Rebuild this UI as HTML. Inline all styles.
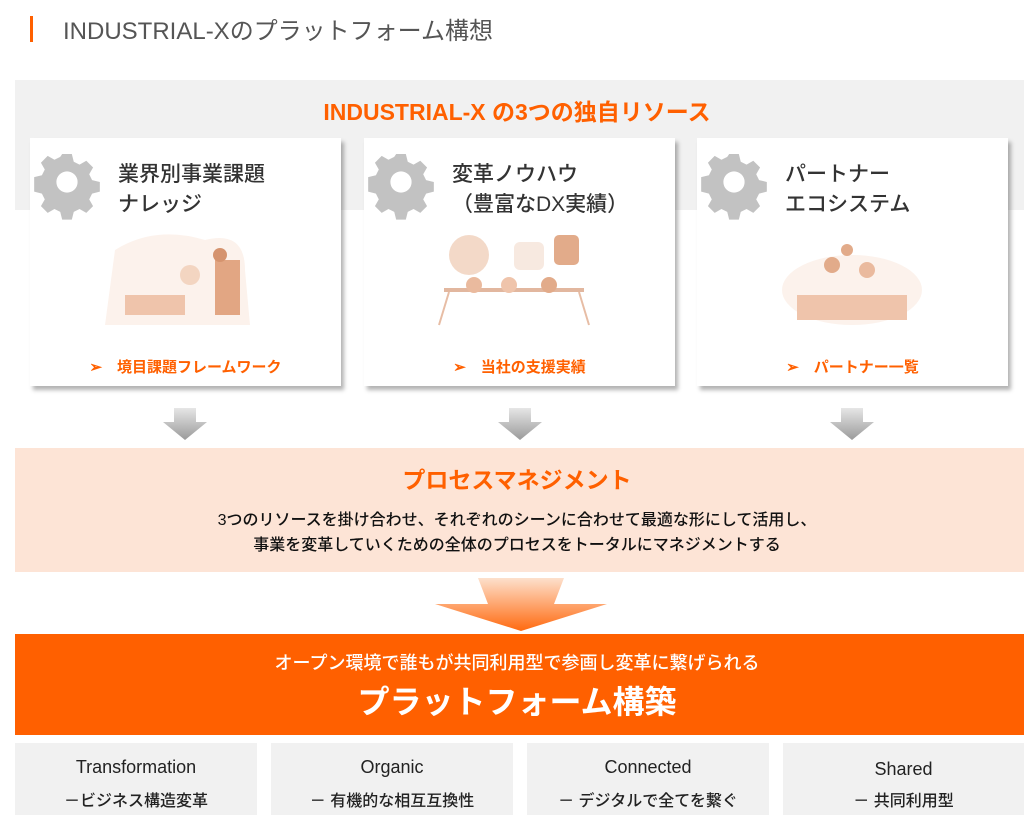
<!DOCTYPE html>
<html><head><meta charset="utf-8"><style>
*{margin:0;padding:0;box-sizing:border-box}
body{width:1024px;height:822px;background:#fff;position:relative;overflow:hidden;font-family:"Liberation Sans","Noto Sans CJK JP",sans-serif}
.a{position:absolute}
.card{position:absolute;top:138px;width:311px;height:248px;background:#fff;box-shadow:3px 4px 4px rgba(0,0,0,.3)}
.gear{position:absolute;left:9px;top:16px;overflow:visible}
.ct{position:absolute;left:88px;top:22px;font-size:21px;line-height:30px;color:#333;font-weight:500}
.lk{position:absolute;left:0;width:100%;top:218px;text-align:center;font-size:15px;font-weight:bold;color:#ff6000}
.ill{position:absolute;left:65px;top:92px;width:175px;height:100px;opacity:.75}
.ga{position:absolute;top:408px;width:44px;height:32px}
.bb{position:absolute;top:743px;width:242px;height:72px;background:#f1f1f1;text-align:center;color:#222}
.bb .t1{position:absolute;top:14px;width:100%;font-size:18px}
.bb .t2{position:absolute;top:44px;width:100%;font-size:16px;font-weight:500}
</style></head><body>
<div class="a" style="left:30px;top:16px;width:3px;height:26px;background:#ff6000"></div>
<div class="a" style="left:63px;top:11px;font-size:24px;color:#555">INDUSTRIAL-Xのプラットフォーム構想</div>
<div class="a" style="left:15px;top:80px;width:1009px;height:130px;background:#f1f1f1"></div>
<div class="a" style="left:0;width:1034px;top:93px;text-align:center;font-size:23px;font-weight:bold;color:#ff6000">INDUSTRIAL-X の3つの独自リソース</div>

<svg width="0" height="0" style="position:absolute"><defs><g id="g"><path fill="#c2c2c2" d="M24 0h10l2 8 6 3 7-4 7 7-4 7 3 6 8 2v10l-8 2-3 6 4 7-7 7-7-4-6 3-2 8H24l-2-8-6-3-7 4-7-7 4-7-3-6-8-2V24l8-2 3-6-4-7 7-7 7 4 6-3z"/><circle cx="29" cy="29" r="11" fill="#fff"/></g></defs></svg>

<div class="card" style="left:30px">
<svg class="gear" width="56" height="56" viewBox="0 0 58 58"><use href="#g"/></svg>
<div class="ct">業界別事業課題<br>ナレッジ</div>
<svg class="ill"><path d="M20 20 Q60 -5 110 10 Q150 0 150 40 L155 95 L10 95 Z" fill="#fbeee6"/><circle cx="95" cy="45" r="10" fill="#f0c7ad"/><rect x="120" y="30" width="25" height="55" fill="#d9895a"/><rect x="30" y="65" width="60" height="20" fill="#eab18f"/><circle cx="125" cy="25" r="7" fill="#c8703e"/></svg>
<div class="lk">➢　境目課題フレームワーク</div></div>

<div class="card" style="left:364px">
<svg class="gear" width="56" height="56" viewBox="0 0 58 58"><use href="#g"/></svg>
<div class="ct">変革ノウハウ<br>（豊富なDX実績）</div>
<svg class="ill"><circle cx="40" cy="25" r="20" fill="#efcdb6"/><rect x="85" y="12" width="30" height="28" rx="6" fill="#f5e2d6"/><rect x="125" y="5" width="25" height="30" rx="5" fill="#d98f63"/><rect x="15" y="58" width="140" height="4" fill="#d9a080"/><circle cx="45" cy="55" r="8" fill="#e4a47e"/><circle cx="80" cy="55" r="8" fill="#eab18f"/><circle cx="120" cy="55" r="8" fill="#d98f63"/><path d="M20 62 L10 95 M150 62 L160 95" stroke="#e0a888" stroke-width="2"/></svg>
<div class="lk">➢　当社の支援実績</div></div>

<div class="card" style="left:697px">
<svg class="gear" width="56" height="56" viewBox="0 0 58 58"><use href="#g"/></svg>
<div class="ct">パートナー<br>エコシステム</div>
<svg class="ill"><ellipse cx="90" cy="60" rx="70" ry="35" fill="#fbeee6"/><rect x="35" y="65" width="110" height="25" fill="#eab18f"/><circle cx="70" cy="35" r="8" fill="#d98f63"/><circle cx="105" cy="40" r="8" fill="#e4a47e"/><circle cx="85" cy="20" r="6" fill="#d98f63"/></svg>
<div class="lk">➢　パートナー一覧</div></div>

<svg class="ga" style="left:163px"><defs><linearGradient id="gg" x1="0" y1="0" x2="0" y2="1"><stop offset="0" stop-color="#e6e6e6"/><stop offset="1" stop-color="#9a9a9a"/></linearGradient></defs><path d="M11 0h22v14h11L22 32 0 14h11z" fill="url(#gg)"/></svg>
<svg class="ga" style="left:498px"><path d="M11 0h22v14h11L22 32 0 14h11z" fill="url(#gg)"/></svg>
<svg class="ga" style="left:830px"><path d="M11 0h22v14h11L22 32 0 14h11z" fill="url(#gg)"/></svg>

<div class="a" style="left:15px;top:448px;width:1009px;height:124px;background:#fde4d6"></div>
<div class="a" style="left:0;width:1034px;top:461px;text-align:center;font-size:23px;font-weight:bold;color:#ff6000">プロセスマネジメント</div>
<div class="a" style="left:0;width:1034px;top:508px;text-align:center;font-size:16px;line-height:25px;color:#111;font-weight:500">3つのリソースを掛け合わせ、それぞれのシーンに合わせて最適な形にして活用し、<br>事業を変革していくための全体のプロセスをトータルにマネジメントする</div>

<svg class="a" style="left:435px;top:578px" width="172" height="53"><defs><linearGradient id="og" x1="0" y1="0" x2="0" y2="1"><stop offset="0" stop-color="#fde0cc"/><stop offset="1" stop-color="#ff6a10"/></linearGradient></defs><path d="M43 0h86l-10 26h53L86 53 0 26h53z" fill="url(#og)"/></svg>

<div class="a" style="left:15px;top:634px;width:1009px;height:101px;background:#ff6000"></div>
<div class="a" style="left:0;width:1034px;top:649px;text-align:center;font-size:18px;color:#fff;font-weight:500">オープン環境で誰もが共同利用型で参画し変革に繋げられる</div>
<div class="a" style="left:0;width:1034px;top:677px;text-align:center;font-size:32px;color:#fff;font-weight:bold">プラットフォーム構築</div>

<div class="bb" style="left:15px"><div class="t1">Transformation</div><div class="t2">－ビジネス構造変革</div></div>
<div class="bb" style="left:271px"><div class="t1">Organic</div><div class="t2">－ 有機的な相互互換性</div></div>
<div class="bb" style="left:527px"><div class="t1">Connected</div><div class="t2">－ デジタルで全てを繋ぐ</div></div>
<div class="bb" style="left:783px;width:241px"><div class="t1" style="top:16px">Shared</div><div class="t2">－ 共同利用型</div></div>
</body></html>
